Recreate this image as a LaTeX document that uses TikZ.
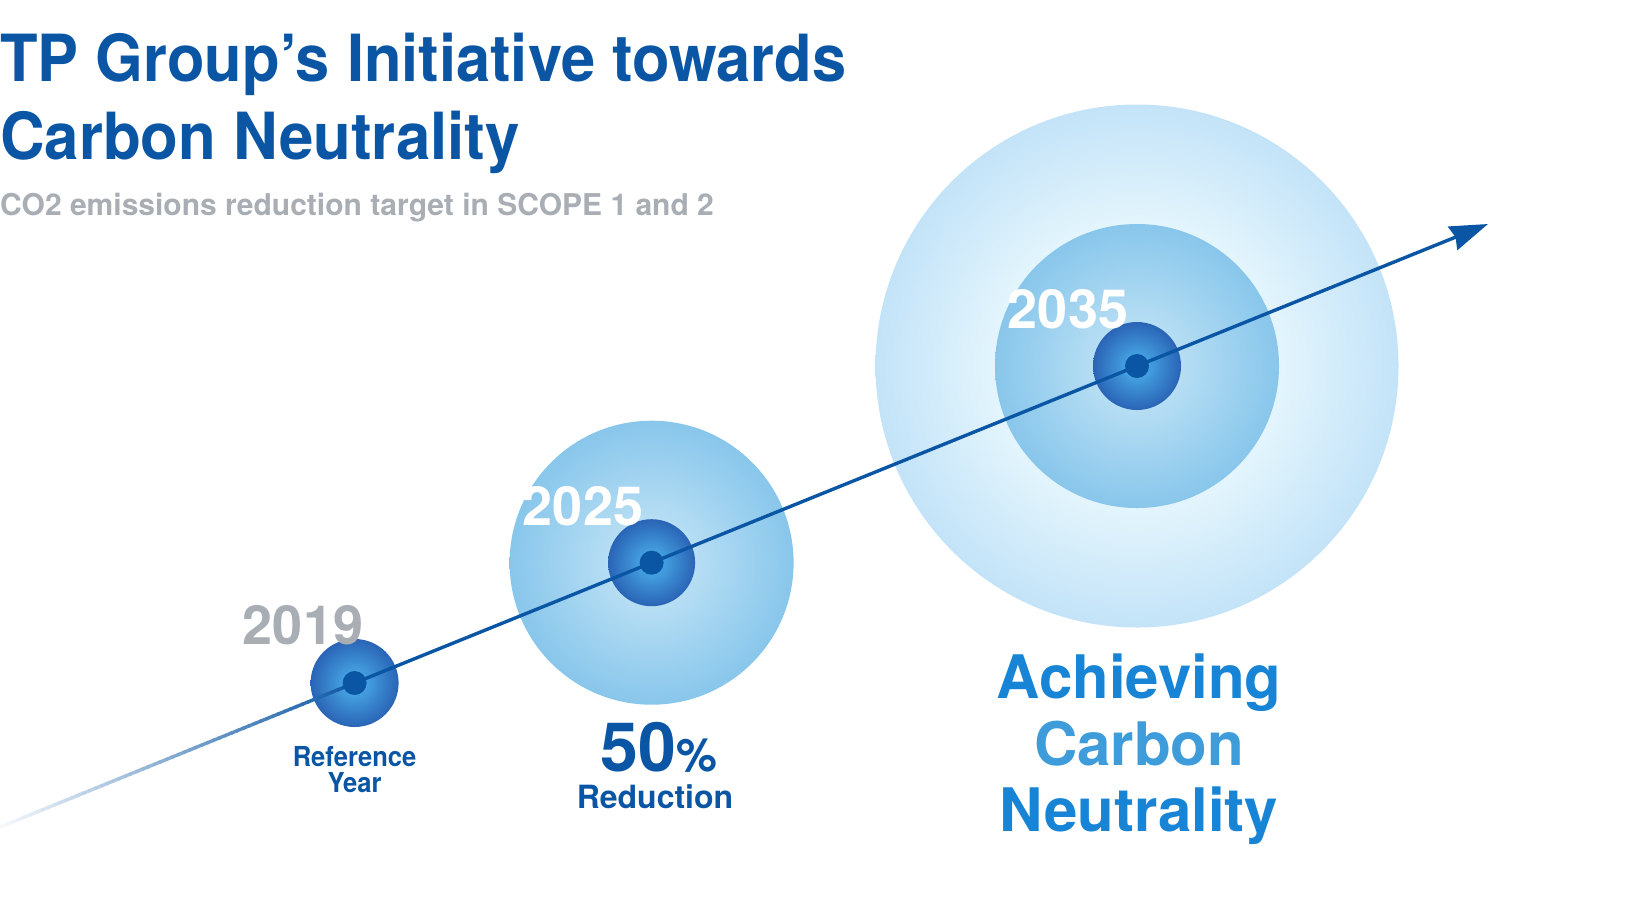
\documentclass[tikz,border=0pt]{standalone}
\usepackage{fontspec}
\setmainfont{TeX Gyre Heros}
\usetikzlibrary{arrows.meta,calc}
\definecolor{tpblue}{HTML}{0A56A4}
\definecolor{tpgrey}{HTML}{A9AEB5}
\definecolor{achblue}{HTML}{1784D6}
\definecolor{achmid}{HTML}{3E9CDA}
\definecolor{smallin}{HTML}{4DB5EE}
\definecolor{smallout}{HTML}{2A64B6}
\definecolor{midin}{HTML}{CAE8F7}
\definecolor{midout}{HTML}{88C6EB}
\definecolor{bigin}{HTML}{FFFFFF}
\definecolor{bigmid}{HTML}{E2F4FC}
\definecolor{bigout}{HTML}{C3E3F8}
\pgfdeclareradialshading{smallball}{\pgfpoint{0bp}{0bp}}{color(0bp)=(smallin); color(25bp)=(smallout); color(50bp)=(smallout)}
\pgfdeclareradialshading{midball}{\pgfpoint{0bp}{0bp}}{color(0bp)=(midin); color(25bp)=(midout); color(50bp)=(midout)}
\pgfdeclareradialshading{bigball}{\pgfpoint{0bp}{0bp}}{color(0bp)=(bigin); color(14bp)=(bigmid); color(25bp)=(bigout); color(50bp)=(bigout)}
\tikzset{
  ball/.style={shading=smallball},
  midcircle/.style={shading=midball},
  bigcircle/.style={shading=bigball},
  dotnode/.style={circle, fill=tpblue, minimum size=24pt, inner sep=0pt},
  yearlbl/.style={inner sep=0pt, anchor=base, font=\bfseries\fontsize{54}{60}\selectfont},
  mainline/.style={line width=3.4pt, draw=tpblue},
  titletext/.style={inner sep=0pt, anchor=base west, text=tpblue, font=\bfseries\fontsize{65}{70}\selectfont},
  reftext/.style={inner sep=0pt, anchor=base, text=tpblue, font=\bfseries\fontsize{27.5}{30}\selectfont},
  achtext/.style={inner sep=0pt, anchor=base, font=\bfseries\fontsize{60}{66}\selectfont},
}
\begin{document}
\begin{tikzpicture}[x=1pt,y=-1pt]
\useasboundingbox (0,0) rectangle (1640,922);
% key points
\coordinate (start) at (0,827);
\coordinate (p1) at (354.6,683);
\coordinate (p2) at (651.6,562.7);
\coordinate (p3) at (1137,366);
\coordinate (tip) at (1488,224);
% circles
\shade[bigcircle] (p3) circle[radius=261.5pt];
\shade[midcircle] (p3) circle[radius=142pt];
\shade[midcircle] (p2) circle[radius=142pt];
\shade[ball] (p1) circle[radius=44pt];
\shade[ball] (p2) circle[radius=43.5pt];
\shade[ball] (p3) circle[radius=44pt];
% gradient tail of the line
\foreach \i in {0,...,59}{
  \pgfmathsetmacro\a{\i/60}
  \pgfmathsetmacro\b{(\i+1.3)/60}
  \pgfmathsetmacro\c{4+96*\a}
  \draw[line width=3.4pt, draw=tpblue!\c!white] ($(start)!\a!(p1)$) -- ($(start)!\b!(p1)$);
}
% main line
\draw[mainline, -{Stealth[length=38pt, width=25pt, inset=3pt]}] (p1) -- (p2) -- (p3) -- (tip);
% dots
\node[dotnode] (d1) at (p1) {};
\node[dotnode] (d2) at (p2) {};
\node[dotnode] (d3) at (p3) {};
% title
\node[titletext] (t1) at (0,81.6) {\scalebox{0.945}[1]{TP Group’s Initiative towards}};
\node[titletext] (t2) at (0,159) {\scalebox{0.95}[1]{Carbon Neutrality}};
\node[inner sep=0pt, anchor=base west, text=tpgrey, font=\bfseries\fontsize{30}{34}\selectfont] (t3) at (0,215) {CO2 emissions reduction target in SCOPE 1 and 2};
% year labels
\node[yearlbl, text=tpgrey] (y1) at (303,644) {2019};
\node[yearlbl, text=white] (y2) at (583,525) {2025};
\node[yearlbl, text=white] (y3) at (1068,328.4) {2035};
% captions
\node[reftext] (r1) at (354.6,766.6) {\scalebox{0.93}[1]{Reference}};
\node[reftext] (r2) at (354.6,792.8) {\scalebox{0.93}[1]{Year}};
\node[inner sep=0pt, anchor=base, text=tpblue] (fifty) at (659,771) {\bfseries\fontsize{68}{70}\selectfont 50\fontsize{46}{50}\selectfont\%};
\node[inner sep=0pt, anchor=base, text=tpblue, font=\bfseries\fontsize{32}{36}\selectfont] (red) at (655,808.5) {Reduction};
\node[achtext, text=achblue] (a1) at (1139,698.6) {Achieving};
\node[achtext, text=achmid] (a2) at (1139,765.6) {Carbon};
\node[achtext, text=achblue] (a3) at (1139,831.5) {Neutrality};
\end{tikzpicture}
\end{document}
